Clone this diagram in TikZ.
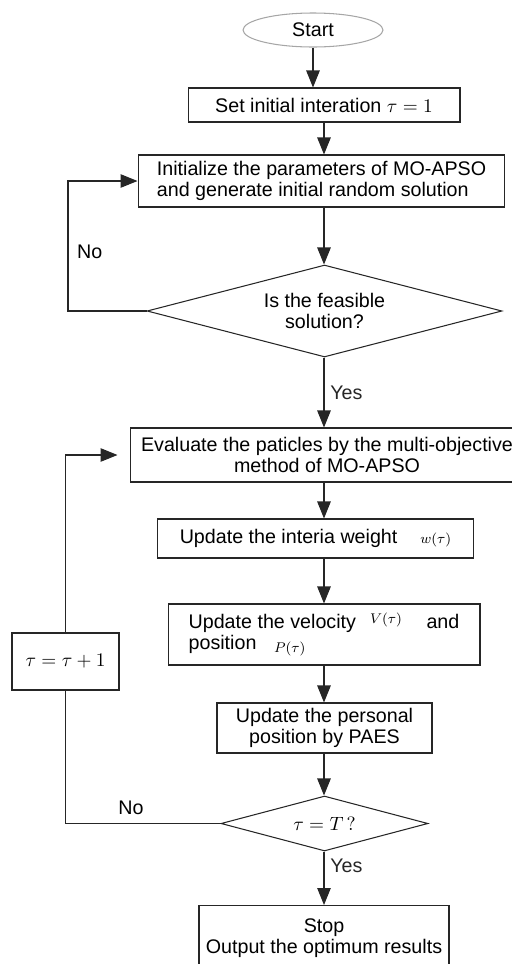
\documentclass[tikz,border=0pt]{standalone}
\usepackage[no-math]{fontspec}
\setmainfont{Liberation Sans}
\usetikzlibrary{shapes.geometric,arrows.meta}
\begin{document}
\begin{tikzpicture}[x=0.02cm, y=-0.02cm, font=\fontsize{11.2}{12}\selectfont]
    % Define node styles
    \tikzstyle{termnode}=[ellipse, draw=black!35, line width=0.6pt, minimum width=2.8cm, minimum height=0.68cm, inner sep=0pt]
    \tikzstyle{procnode}=[rectangle, draw=black!85, line width=0.6pt, inner sep=2pt]
    \tikzstyle{decnode}=[diamond, draw=black!85, line width=0.6pt, inner sep=0pt, align=center]
    \tikzstyle{flowarrow}=[-{Triangle[length=0.34cm, width=0.27cm]}, line width=0.6pt, black!85]
    \tikzstyle{flowline}=[line width=0.6pt, black!85]

    \useasboundingbox (0,0) rectangle (511,964);

    % Main column of steps
    \node[termnode] (start) at (313,30) {Start};
    \node[procnode, minimum width=5.44cm, minimum height=0.68cm] (set) at (324,105) {Set initial interation $\tau = 1$};
    \node[procnode, minimum width=7.34cm, minimum height=1.04cm, align=left] (init) at (321.5,181) {Initialize the parameters of MO-APSO\\and generate initial random solution};
    \node[decnode, aspect=3.86, minimum width=7.1cm, minimum height=1.84cm] (feas) at (324.5,311) {Is the feasible\\solution?};
    \node[procnode, minimum width=7.88cm, minimum height=1.08cm, align=center] (eval) at (327,455) {Evaluate the paticles by the multi-objective\\method of MO-APSO};
    \node[procnode, minimum width=6.34cm, minimum height=0.78cm] (weight) at (315.5,538.5) {Update the interia weight\hspace{13pt}{\footnotesize $w(\tau)$}};
    \node[procnode, minimum width=6.24cm, minimum height=1.22cm, align=left] (vel) at (324,634.5) {Update the velocity\hspace{8pt}\raisebox{3pt}{\footnotesize $V(\tau)$}\hspace{14pt}and\\position\hspace{10pt}\raisebox{-2pt}{\footnotesize $P(\tau)$}};
    \node[procnode, minimum width=4.3cm, minimum height=1.0cm, align=center] (pers) at (324.5,728) {Update the personal\\position by PAES};
    \node[decnode, aspect=3.76, minimum width=4.14cm, minimum height=1.1cm] (check) at (324.5,823.5) {$\tau = T\,?$};
    \node[procnode, minimum width=5cm, minimum height=1.32cm, align=center, anchor=north] (stop) at (324,905) {Stop\\Output the optimum results};

    % Counter box on the left
    \node[procnode, minimum width=2.14cm, minimum height=1.14cm] (incr) at (65.5,661.5) {$\tau = \tau + 1$};

    % Branch labels
    \node[right] (no1) at (71,252) {No};
    \node (no2) at (131,808) {No};

    % Vertical arrows
    \coordinate (axis) at (324,0);
    \draw[flowarrow] (start.south) -- (start.south |- set.north);
    \draw[flowarrow] (axis |- set.south) -- (axis |- init.north);
    \draw[flowarrow] (axis |- init.south) -- (axis |- feas.north);
    \draw[flowarrow] (axis |- feas.south) -- node[right] (yes1) {Yes} (axis |- eval.north);
    \draw[flowarrow] (axis |- eval.south) -- (axis |- weight.north);
    \draw[flowarrow] (axis |- weight.south) -- (axis |- vel.north);
    \draw[flowarrow] (axis |- vel.south) -- (axis |- pers.north);
    \draw[flowarrow] (axis |- pers.south) -- (axis |- check.north);
    \draw[flowarrow] (axis |- check.south) -- node[pos=0.27, right] (yes2) {Yes} (axis |- stop.north);

    % Feedback loops
    \coordinate (loopa) at (68,0);
    \draw[flowarrow] (feas.west) -- (feas.west -| loopa) |- (init.west);
    \draw[flowline] (check.west) -| (incr.south);
    \draw[flowarrow, shorten >=0.24cm] (incr.north) |- (eval.west);

\end{tikzpicture}
\end{document}
